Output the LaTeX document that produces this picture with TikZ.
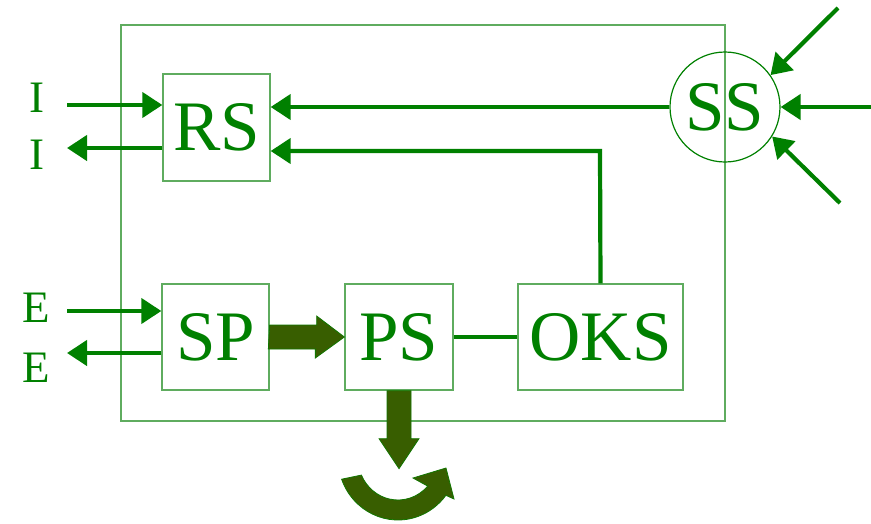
\documentclass[tikz,border=0pt]{standalone}
\usepackage{fontspec}
\setmainfont{Liberation Serif}
\usetikzlibrary{arrows.meta}

\definecolor{sgreen}{RGB}{0,128,0}
\definecolor{boxgreen}{RGB}{95,172,95}
\definecolor{olive}{RGB}{56,94,0}

\tikzset{
    block/.style={draw=boxgreen, line width=1.3pt, text=sgreen,
        minimum height=106pt, inner sep=0pt,
        font=\fontsize{71}{71}\selectfont},
    lbl/.style={text=sgreen, inner sep=0pt, font=\fontsize{45}{45}\selectfont},
    flow/.style={draw=sgreen, line width=4.2pt,
        -{Triangle[length=20pt, width=25pt]}},
    bigarrow/.style={fill=olive, draw=sgreen!70!olive, line width=0.8pt}
}

\begin{document}
\begin{tikzpicture}[x=1pt, y=-1pt]
    \useasboundingbox (0,0) rectangle (871,523);

    % frame
    \draw[boxgreen, line width=1.3pt] (121,25) rectangle (725,421);

    % blocks
    \node[block, minimum width=107pt, minimum height=107pt] (rs) at (216.5,127.5) {RS};
    \node[block, minimum width=107pt] (sp) at (215.5,337) {SP};
    \node[block, minimum width=108pt] (ps) at (399,337) {PS};
    \node[block, minimum width=165pt] (oks) at (600.5,337) {OKS};
    \node[circle, draw=sgreen, line width=1.2pt, minimum size=110pt, inner sep=0pt,
        text=sgreen, font=\fontsize{71}{71}\selectfont] (ss) at (725,107) {SS};

    % free ends
    \coordinate (i1) at (67,105);
    \coordinate (i2) at (67,148);
    \coordinate (e1) at (67,311);
    \coordinate (e2) at (67,353);
    \coordinate (ret) at (600,151);
    \coordinate (s1) at (838,8);
    \coordinate (s2) at (871,107);
    \coordinate (s3) at (840,203);

    % labels
    \node[lbl] (li1) at (37,98) {I};
    \node[lbl] (li2) at (37,155) {I};
    \node[lbl] (le1) at (36,308) {E};
    \node[lbl] (le2) at (36,368) {E};

    % signals in and out
    \draw[flow] (i1) -- (i1 -| rs.west);
    \draw[flow] (i2 -| rs.west) -- (i2);
    \draw[flow] (e1) -- (e1 -| sp.west);
    \draw[flow] (e2 -| sp.west) -- (e2);

    \draw[flow] (ss.west) -- (ss.west -| rs.east);
    \draw[flow] (oks.north) -- (ret) -- (ret -| rs.east);
    \draw[draw=sgreen, line width=4.2pt] (ps.east) -- (oks.west);

    \draw[flow] (s1) -- (ss.35);
    \draw[flow] (s2) -- (ss);
    \draw[flow] (s3) -- (ss.-32);

    % SP -> PS
    \filldraw[bigarrow] (sp.east) ++(0,-12) -- ++(47,0) -- ++(0,-9) -- (ps.west)
        -- ++(-29,21) -- ++(0,-9) -- ++(-47,0) -- cycle;
    % PS down
    \filldraw[bigarrow] (ps.south) ++(-12,0) -- ++(0,48) -- ++(-8,0) -- ++(20,30)
        -- ++(20,-30) -- ++(-8,0) -- ++(0,-48) -- cycle;
    % turning arrow
    \filldraw[bigarrow] (341.6,479.2) arc[start angle=160, end angle=37, x radius=60, y radius=62]
        -- (454,499) -- (446,468) -- (413,478) -- (427.7,486.1)
        arc[start angle=42, end angle=156, x radius=40, y radius=42] -- cycle;
\end{tikzpicture}
\end{document}
